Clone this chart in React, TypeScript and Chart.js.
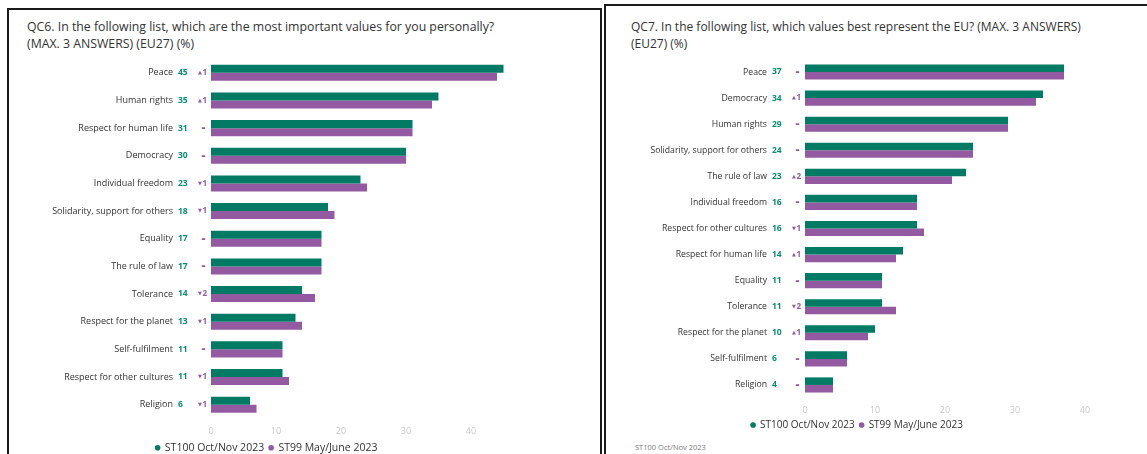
import React, { useEffect, useRef } from 'react';
import { Chart, registerables } from 'chart.js';

Chart.register(...registerables);

// ---------- DATA ----------
const seriesLabels = ['ST100 Oct/Nov 2023', 'ST99 May/June 2023'];
const xTickValues = [0, 10, 20, 30, 40];

const qc6Title = ['QC6. In the following list, which are the most important values for you personally?', '(MAX. 3 ANSWERS) (EU27) (%)'];
const qc6Categories = [
  'Peace', 'Human rights', 'Respect for human life', 'Democracy', 'Individual freedom',
  'Solidarity, support for others', 'Equality', 'The rule of law', 'Tolerance',
  'Respect for the planet', 'Self-fulfilment', 'Respect for other cultures', 'Religion',
];
const qc6Current = [45, 35, 31, 30, 23, 18, 17, 17, 14, 13, 11, 11, 6];
const qc6Previous = [44, 34, 31, 30, 24, 19, 17, 17, 16, 14, 11, 12, 7];
const qc6Deltas = ['▲1', '▲1', '=', '=', '▼1', '▼1', '=', '=', '▼2', '▼1', '=', '▼1', '▼1'];

const qc7Title = ['QC7. In the following list, which values best represent the EU? (MAX. 3 ANSWERS)', '(EU27) (%)'];
const qc7Categories = [
  'Peace', 'Democracy', 'Human rights', 'Solidarity, support for others', 'The rule of law',
  'Individual freedom', 'Respect for other cultures', 'Respect for human life', 'Equality',
  'Tolerance', 'Respect for the planet', 'Self-fulfilment', 'Religion',
];
const qc7Current = [37, 34, 29, 24, 23, 16, 16, 14, 11, 11, 10, 6, 4];
const qc7Previous = [37, 33, 29, 24, 21, 16, 17, 13, 11, 13, 9, 6, 4];
const qc7Deltas = ['=', '▲1', '=', '=', '▲2', '=', '▼1', '▲1', '=', '▼2', '▲1', '=', '='];

const sourceNote = 'ST100 Oct/Nov 2023';

// ---------- STYLE ----------
const GREEN = '#037a64';
const PURPLE = '#935aa2';
const FONT = '"Open Sans", "Noto Sans", sans-serif';

function makeAnnotate(values: number[], deltas: string[]) {
  return {
    id: 'annotate',
    afterDraw(chart: any) {
      const { ctx, chartArea } = chart;
      const y = chart.scales.y;
      ctx.save();
      ctx.textBaseline = 'middle';
      values.forEach((v, i) => {
        const py = y.getPixelForValue(i);
        ctx.font = `bold 8.5px ${FONT}`;
        ctx.fillStyle = '#0b8c70';
        ctx.textAlign = 'left';
        ctx.fillText(String(v), chartArea.left - 33, py);
        const d = deltas[i];
        const right = chartArea.left - 4;
        ctx.fillStyle = PURPLE;
        ctx.textAlign = 'right';
        if (d === '=') {
          ctx.font = `bold 7px ${FONT}`;
          ctx.fillText('=', right - 1.5, py);
        } else {
          const sym = d[0];
          const num = d.slice(1);
          ctx.font = `bold 8px ${FONT}`;
          ctx.fillText(num, right, py);
          const w = ctx.measureText(num).width;
          ctx.font = `5px "DejaVu Sans"`;
          ctx.fillText(sym, right - w - 0.5, py);
        }
      });
      ctx.restore();
    },
  };
}

type ChartProps = {
  categories: string[];
  current: number[];
  previous: number[];
  deltas: string[];
  xMax: number;
  width: number;
  height: number;
  axisWidth: number;
  axisHeight: number;
  tickPadding: number;
  labelFont: number;
  padRight: number;
  legendPadding: number;
  legendFont: number;
  style: React.CSSProperties;
};

function BarPanel(p: ChartProps) {
  const ref = useRef<HTMLCanvasElement | null>(null);
  useEffect(() => {
    if (!ref.current) return;
    const chart = new Chart(ref.current, {
      type: 'bar',
      data: {
        labels: p.categories,
        datasets: [
          { label: seriesLabels[0], data: p.current, backgroundColor: GREEN, borderWidth: 0 },
          { label: seriesLabels[1], data: p.previous, backgroundColor: PURPLE, borderWidth: 0 },
        ],
      },
      options: {
        indexAxis: 'y',
        responsive: false,
        animation: false,
        devicePixelRatio: 1,
        layout: { padding: { left: 0, right: p.padRight, top: 0, bottom: 0 } },
        datasets: { bar: { categoryPercentage: 0.58, barPercentage: 1 } },
        scales: {
          x: {
            min: 0,
            max: p.xMax,
            grid: { display: false, drawTicks: false },
            border: { display: false },
            ticks: { color: '#c9c9c9', font: { family: FONT, size: 9 }, padding: p.tickPadding, includeBounds: false },
            afterBuildTicks: (scale: any) => {
              scale.ticks = xTickValues.map((v) => ({ value: v }));
            },
            afterFit: (scale: any) => {
              scale.height = p.axisHeight;
              scale.paddingLeft = 0;
              scale.paddingRight = 0;
            },
          },
          y: {
            grid: { display: false, drawTicks: false },
            border: { display: false },
            ticks: { color: '#333', font: { family: FONT, size: p.labelFont }, padding: 38, autoSkip: false },
            afterFit: (scale: any) => {
              scale.width = p.axisWidth;
              scale.paddingTop = 0;
              scale.paddingBottom = 0;
            },
          },
        },
        plugins: {
          legend: {
            position: 'bottom',
            labels: {
              usePointStyle: true,
              pointStyle: 'circle',
              boxWidth: 4,
              boxHeight: 4,
              padding: p.legendPadding,
              color: '#333',
              font: { family: FONT, size: p.legendFont },
            },
          },
          tooltip: { enabled: false },
        },
      },
      plugins: [makeAnnotate(p.current, p.deltas)],
    } as any);
    return () => chart.destroy();
  }, []);
  return <canvas ref={ref} width={p.width} height={p.height} style={{ position: 'absolute', ...p.style }} />;
}

export default function App() {
  const titleStyle: React.CSSProperties = {
    position: 'absolute',
    fontFamily: FONT,
    lineHeight: '17px',
    color: '#333',
    margin: 0,
    whiteSpace: 'nowrap',
  };
  return (
    <div style={{ position: 'fixed', inset: 0, overflow: 'hidden', background: '#fff' }}>
      <div style={{ position: 'absolute', left: 7, top: 8, width: 595, height: 520, border: '2px solid #1a1a1a', boxSizing: 'border-box' }} />
      <div style={{ position: 'absolute', left: 604, top: 4, width: 600, height: 520, border: '2px solid #1a1a1a', boxSizing: 'border-box' }} />
      <div style={{ ...titleStyle, fontSize: 12.3, left: 27, top: 18 }}>
        {qc6Title[0]}<br />{qc6Title[1]}
      </div>
      <div style={{ ...titleStyle, fontSize: 12, left: 631, top: 18 }}>
        {qc7Title[0]}<br />{qc7Title[1]}
      </div>
      <BarPanel
        categories={qc6Categories}
        current={qc6Current}
        previous={qc6Previous}
        deltas={qc6Deltas}
        xMax={48}
        width={520}
        height={404}
        axisWidth={201}
        axisHeight={19}
        tickPadding={8}
        labelFont={9}
        padRight={7}
        legendPadding={5}
        legendFont={10.5}
        style={{ left: 10, top: 59 }}
      />
      <BarPanel
        categories={qc7Categories}
        current={qc7Current}
        previous={qc7Previous}
        deltas={qc7Deltas}
        xMax={44}
        width={520}
        height={381}
        axisWidth={204}
        axisHeight={17}
        tickPadding={7}
        labelFont={8.7}
        padRight={8}
        legendPadding={5}
        legendFont={10}
        style={{ left: 601, top: 59 }}
      />
      <div style={{ position: 'absolute', left: 635, top: 442, fontFamily: FONT, fontSize: 7.5, color: '#777' }}>{sourceNote}</div>
    </div>
  );
}
